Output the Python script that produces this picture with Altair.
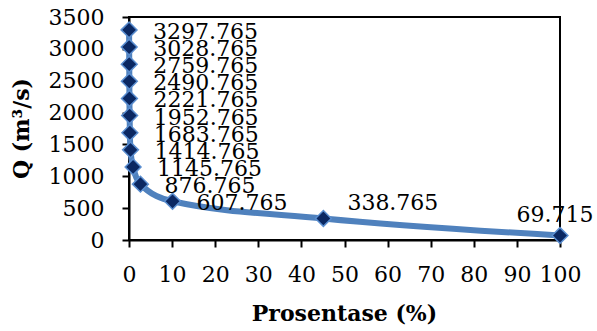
import altair as alt
import pandas as pd

# Flow duration data: exceedance percentage vs discharge
prosentase = [0.02, 0.04, 0.06, 0.08, 0.10, 0.15, 0.20, 0.35, 0.95, 2.65, 10.1, 45.1, 100.0]
debit = [3297.765, 3028.765, 2759.765, 2490.765, 2221.765, 1952.765,
         1683.765, 1414.765, 1145.765, 876.765, 607.765, 338.765, 69.715]
x_ticks = list(range(0, 101, 10))
y_ticks = list(range(0, 3501, 500))

df = pd.DataFrame({"P": prosentase, "Q": debit, "idx": list(range(len(debit)))})

FONT = "DejaVu Serif"
LINE_BLUE = "#4f81bd"
MARK_FILL = "#0b2862"
MARK_STROKE = "#5a8ed0"

x_enc = alt.X("P:Q", scale=alt.Scale(domain=[0, 100], nice=False),
              axis=alt.Axis(values=x_ticks, tickCount=len(x_ticks), format="d",
                            title="Prosentase (%)", labelPadding=17,
                            titleX=215, titleY=73, titleBaseline="middle",
                            titleAlign="center", titleAnchor="middle"))
y_enc = alt.Y("Q:Q", scale=alt.Scale(domain=[0, 3500], nice=False),
              axis=alt.Axis(values=y_ticks, tickCount=len(y_ticks), format="d",
                            title="Q (m³/s)", labelPadding=18,
                            titleX=-108, titleY=111, titleAngle=-90,
                            titleBaseline="middle", titleAlign="center",
                            titleAnchor="middle"))

base = alt.Chart(df)

line = base.mark_line(color=LINE_BLUE, strokeWidth=6, interpolate="monotone").encode(
    x=x_enc, y=y_enc, order="P:Q")

points = base.mark_point(shape="diamond", filled=True, size=250, fill=MARK_FILL,
                         stroke=MARK_STROKE, strokeWidth=1.5, opacity=1).encode(
    x=x_enc, y=y_enc)

label_common = dict(font=FONT, fontSize=22, color="black")

labels_right = base.transform_filter(alt.datum.idx <= 10).mark_text(
    align="left", baseline="middle", dx=24, dy=2, **label_common).encode(
    x=x_enc, y=y_enc, text=alt.Text("Q:Q", format=".3f"))

label_mid = base.transform_filter(alt.datum.idx == 11).mark_text(
    align="left", baseline="middle", dx=24, dy=-15, **label_common).encode(
    x=x_enc, y=y_enc, text=alt.Text("Q:Q", format=".3f"))

label_end = base.transform_filter(alt.datum.idx == 12).mark_text(
    align="center", baseline="middle", dx=-5, dy=-21, **label_common).encode(
    x=x_enc, y=y_enc, text=alt.Text("Q:Q", format=".3f"))

chart = alt.layer(line, points, labels_right, label_mid, label_end).properties(
    width=431, height=223,
    autosize=alt.AutoSizeParams(type="none"),
    padding={"left": 129, "top": 17, "right": 37, "bottom": 91},
    background="white",
).configure_view(
    stroke="black", strokeWidth=2
).configure_axis(
    grid=False, labelOverlap=False, labelFlush=False, labelBound=False,
    domainColor="black", domainWidth=2, tickColor="black", tickWidth=2, tickSize=7,
    labelFont=FONT, labelFontSize=22, labelColor="black",
    titleFont=FONT, titleFontSize=22, titleFontWeight="bold", titleColor="black",
)

chart.save("out.html", embed_options={"renderer": "svg", "actions": False})
